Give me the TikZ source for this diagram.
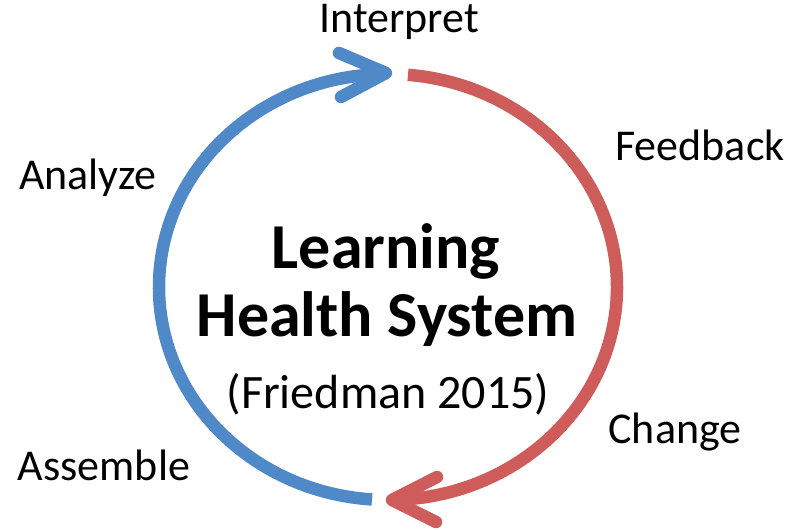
\documentclass[tikz,border=0pt]{standalone}
\usepackage{fontspec}
\setmainfont{Carlito}
\usetikzlibrary{calc}
\definecolor{cblue}{RGB}{80,137,200}
\definecolor{cred}{RGB}{206,92,90}
\begin{document}
\begin{tikzpicture}[x=1pt,y=1pt,
  loop/.style={line width=12.5pt},
  head/.style={line width=12.5pt,line cap=round,line join=round},
  lbl/.style={font=\fontsize{44}{48}\selectfont,inner sep=0pt},
  big/.style={font=\fontsize{64}{70}\selectfont\bfseries,inner sep=0pt},
  sub/.style={font=\fontsize{48}{54}\selectfont,inner sep=0pt}]
\useasboundingbox (0,0) rectangle (803,530);
\coordinate (c) at (388,243);
% blue arc
\draw[loop,cblue] (c) ++(266:229 and 213) arc[start angle=266,end angle=92,x radius=229,y radius=213] coordinate (bt);
\coordinate (btip) at (386,457);
\draw[head,cblue] (339,477) -- (btip) -- (341,433);
% red arc
\draw[loop,cred] (c) ++(85:229 and 213) arc[start angle=85,end angle=-88,x radius=229,y radius=213] coordinate (rt);
\coordinate (rtip) at (392,30);
\draw[head,cred] (437,53) -- (rtip) -- (436,8);
% labels
\node[lbl] (interp) at (399,508) {Interpret};
\node[lbl] (feed) at (700,385) {Feedback};
\node[lbl] (anal) at (88,352) {Analyze};
\node[lbl] (chg) at (675,98) {Change};
\node[lbl] (ass) at (104,65) {Assemble};
\node[big] (l1) at (386,279) {Learning};
\node[big] (l2) at (387,211) {Health System};
\node[sub] (l3) at (388,136) {(Friedman 2015)};
\end{tikzpicture}
\end{document}
